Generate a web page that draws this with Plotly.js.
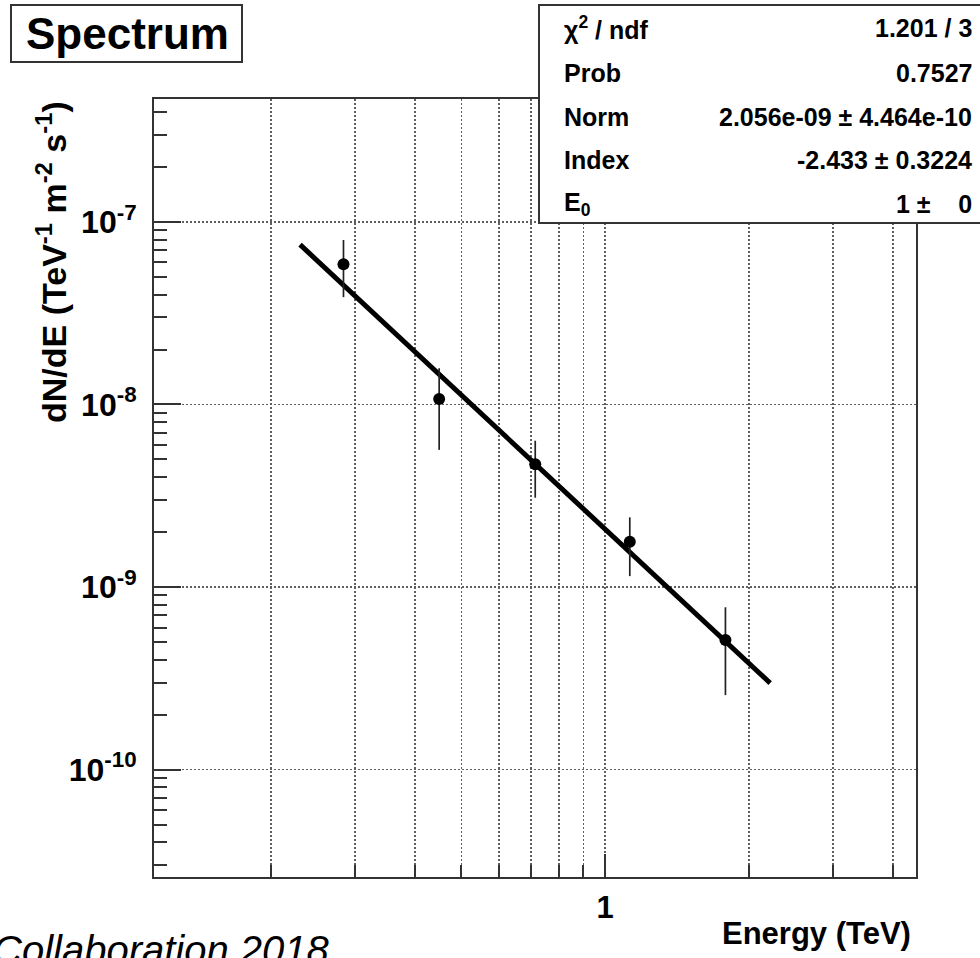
<!DOCTYPE html>
<html>
<head>
<meta charset="utf-8">
<script src="https://cdn.plot.ly/plotly-3.0.1.min.js"></script>
<style>
html,body{margin:0;padding:0;background:#fff;}
#chart{width:980px;height:958px;}
</style>
</head>
<body>
<div id="chart"></div>
<script>
// ---- data ----
const energy   = [0.2835, 0.4495, 0.714, 1.126, 1.785];          // TeV
const flux     = [5.86e-8, 1.07e-8, 4.70e-9, 1.77e-9, 5.13e-10]; // TeV^-1 m^-2 s^-1
const errUp    = [2.10e-8, 5.09e-9, 1.63e-9, 6.4e-10, 2.62e-10];
const errDown  = [1.99e-8, 5.06e-9, 1.615e-9, 6.22e-10, 2.57e-10];
const fitEnergy = [0.230, 2.214];
const fitFlux   = [7.5e-8, 2.98e-10];

const xMajorVals = [1];
const xMajorText = ['1'];
const xMinorVals = [0.2, 0.3, 0.4, 0.5, 0.6, 0.7, 0.8, 0.9, 2, 3, 4];
const yMajorVals = [1e-10, 1e-9, 1e-8, 1e-7];
const yMajorText = ['10<sup>-10</sup>', '10<sup>-9</sup>', '10<sup>-8</sup>', '10<sup>-7</sup>'];
const yMinorDecades = [1e-11, 1e-10, 1e-9, 1e-8, 1e-7];
const yMinorDigits = [2, 3, 4, 5, 6, 7, 8, 9];

const statLabels = ['\u03c7<sup>2</sup> / ndf', 'Prob', 'Norm', 'Index', 'E<sub>0</sub>'];
const statValues = ['1.201 / 3', '0.7527', '2.056e-09 \u00b1 4.464e-10', '-2.433 \u00b1 0.3224', '1 \u00b1\u00a0\u00a0\u00a0 0'];

// ---- layout helpers (pixel -> paper) ----
const W = 980, H = 958;
const L = 154, R = 916, T = 99, B = 877;
const px = x => (x - L) / (R - L);
const py = y => (B - y) / (B - T);

const yMinorVals = [];
yMinorDecades.forEach(d => yMinorDigits.forEach(k => yMinorVals.push(k * d)));

const FONT = '"Liberation Sans", Arial, Helvetica, sans-serif';
const AX = '#333';
const GRID = '#5e5e5e';

const traces = [
  {
    x: fitEnergy, y: fitFlux, type: 'scatter', mode: 'lines',
    line: {color: '#000', width: 5}, hoverinfo: 'skip', showlegend: false
  },
  {
    x: energy, y: flux, type: 'scatter', mode: 'markers',
    marker: {color: '#000', size: 12, symbol: 'circle'},
    error_y: {type: 'data', symmetric: false, array: errUp, arrayminus: errDown,
              color: '#222', thickness: 1.7, width: 0},
    showlegend: false
  }
];

const stAnn = [];
const rowY = [28, 73, 117, 160, 204];
statLabels.forEach((t, i) => {
  stAnn.push({xref: 'paper', yref: 'paper', x: px(562), y: py(rowY[i]), xanchor: 'left', yanchor: 'middle',
    text: '<b>' + t + '</b>', showarrow: false, font: {family: FONT, size: 25, color: '#000'}});
});
statValues.forEach((t, i) => {
  stAnn.push({xref: 'paper', yref: 'paper', x: px(974), y: py(rowY[i]), xanchor: 'right', yanchor: 'middle',
    text: '<b>' + t + '</b>', showarrow: false, font: {family: FONT, size: 25, color: '#000'}});
});

const layout = {
  width: W, height: H,
  margin: {l: L, r: W - R, t: T, b: H - B},
  paper_bgcolor: '#fff', plot_bgcolor: '#fff',
  showlegend: false,
  xaxis: {
    type: 'log', range: [Math.log10(0.1138), Math.log10(4.47)],
    tickmode: 'array', tickvals: xMajorVals, ticktext: xMajorText,
    ticks: 'inside', ticklen: 23, tickwidth: 2, tickcolor: AX,
    showline: true, linecolor: AX, linewidth: 2, mirror: true,
    showgrid: true, gridcolor: GRID, gridwidth: 1.5, griddash: '1.5px,2.5px',
    zeroline: false,
    tickfont: {family: FONT, size: 31, color: '#000', weight: 'bold'},
    ticklabelstandoff: 2,
    minor: {tickmode: 'array', tickvals: xMinorVals, ticks: 'inside', ticklen: 12, tickwidth: 2, tickcolor: AX,
            showgrid: true, gridcolor: GRID, gridwidth: 1.5, griddash: '1.5px,2.5px'},
    fixedrange: true
  },
  yaxis: {
    type: 'log', range: [-10.588, -6.327],
    tickmode: 'array', tickvals: yMajorVals, ticktext: yMajorText,
    ticks: 'inside', ticklen: 27, tickwidth: 2, tickcolor: AX,
    showline: true, linecolor: AX, linewidth: 2, mirror: true,
    showgrid: true, gridcolor: GRID, gridwidth: 1.5, griddash: '1.5px,2.5px',
    zeroline: false,
    tickfont: {family: FONT, size: 32, color: '#000', weight: 'bold'},
    ticklabelstandoff: 9,
    minor: {tickmode: 'array', tickvals: yMinorVals, ticks: 'inside', ticklen: 13, tickwidth: 2, tickcolor: AX,
            showgrid: false},
    fixedrange: true
  },
  shapes: [
    // title box
    {type: 'rect', xref: 'paper', yref: 'paper', x0: px(11), x1: px(242), y0: py(62), y1: py(5),
     line: {color: AX, width: 2}, fillcolor: '#fff', layer: 'above'},
    // stats box
    {type: 'rect', xref: 'paper', yref: 'paper', x0: px(539), x1: px(990), y0: py(223), y1: py(5),
     line: {color: AX, width: 2}, fillcolor: '#fff', layer: 'above'}
  ],
  annotations: [
    {xref: 'paper', yref: 'paper', x: px(127), y: py(34), xanchor: 'center', yanchor: 'middle',
     text: '<b>Spectrum</b>', showarrow: false, font: {family: FONT, size: 44, color: '#000'}},
    {xref: 'paper', yref: 'paper', x: px(51), y: py(262), xanchor: 'center', yanchor: 'middle', textangle: -90,
     text: '<b>dN/dE (TeV<sup>-1</sup> m<sup>-2</sup> s<sup>-1</sup>)</b>', showarrow: false,
     font: {family: FONT, size: 34, color: '#000'}},
    {xref: 'paper', yref: 'paper', x: px(913), y: py(933), xanchor: 'right', yanchor: 'middle',
     text: '<b>Energy (TeV)</b>', showarrow: false, font: {family: FONT, size: 31, color: '#000'}},
    {xref: 'paper', yref: 'paper', x: px(-8), y: py(927), xanchor: 'left', yanchor: 'top',
     text: '<i>Collaboration 2018</i>', showarrow: false, borderpad: 0,
     font: {family: FONT, size: 40, color: '#000'}}
  ].concat(stAnn)
};

Plotly.newPlot('chart', traces, layout, {displayModeBar: false, staticPlot: true});
</script>
</body>
</html>
